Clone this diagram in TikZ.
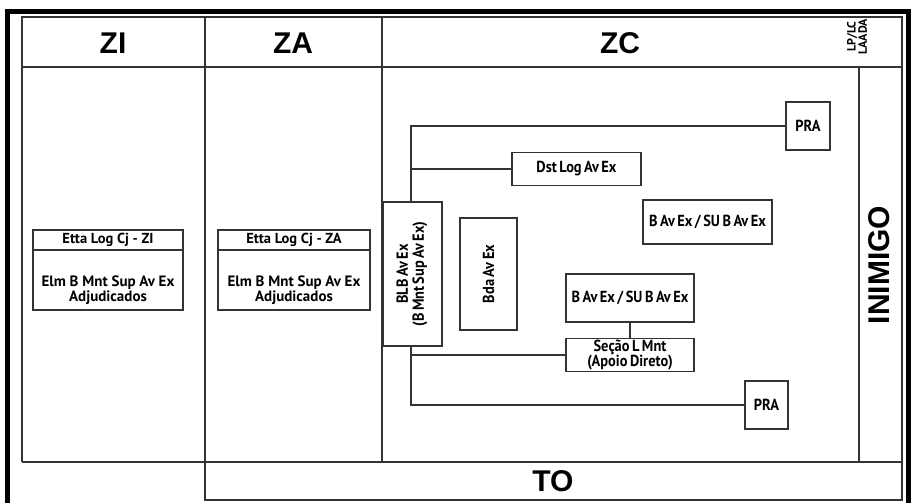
\documentclass[tikz,border=0pt]{standalone}
\usepackage{fontspec}
\setmainfont{Liberation Sans}
\newfontfamily\boxfontn{PT Sans}
\newfontfamily\boxfont[FakeStretch=0.9]{PT Sans}
\newcommand\zcfont{\boxfont\fontsize{16}{12.5}\selectfont\bfseries\setlength{\spaceskip}{2.5pt plus 1pt}}
\begin{document}
\begin{tikzpicture}[x=1pt,y=-1pt,
  frame/.style={draw=black!80, line width=1.4pt},
  hdr/.style={font=\fontsize{30}{31}\selectfont\bfseries, inner sep=0pt},
  bx/.style={draw=black!80, line width=1.4pt, inner sep=0pt, align=center, font=\zcfont},
  tbx/.style={bx, font=\boxfontn\fontsize{14.5}{16}\selectfont\bfseries},
  txt/.style={inner sep=0pt, align=center, font=\boxfontn\fontsize{15}{15}\selectfont\bfseries},
  conn/.style={draw=black!80, line width=1.4pt}]
\useasboundingbox (0,0) rectangle (911,503);
\fill[white] (0,0) rectangle (911,503);
% outer black frame
\draw[line width=5pt] (7,503) -- (7,11.5) -- (908,11.5) -- (908,503);
% table
\draw[frame] (22,462) -- (22,17) -- (902,17) -- (902,500) -- (205,500) -- (205,17);
\draw[frame] (22,67) -- (902,67);
\draw[frame] (22,462) -- (902,462);
\draw[frame] (382,17) -- (382,462);
\draw[frame] (859,67) -- (859,462);
% headers
\node[hdr] (zi) at (113,43) {ZI};
\node[hdr] (za) at (293,43) {ZA};
\node[hdr] (zc) at (620,43) {ZC};
\node[hdr] (to) at (553,481) {TO};
\node[hdr, rotate=90] (inimigo) at (879,265) {INIMIGO};
\node[rotate=90, align=center, inner sep=0pt, font=\boxfontn\fontsize{12}{9.5}\selectfont\bfseries] (lp) at (857,37) {LP/LC\\LAADA};
% ZI / ZA boxes
\node[tbx, minimum width=150, minimum height=20] (zit) at (108,240) {Etta Log Cj - ZI};
\node[draw=black!80, line width=1.4pt, minimum width=150, minimum height=60] (zib) at (108,280) {};
\node[txt] (zibt) at (108,290) {Elm B Mnt Sup Av Ex\\Adjudicados};
\node[tbx, minimum width=152, minimum height=20] (zat) at (294,240) {Etta Log Cj - ZA};
\node[draw=black!80, line width=1.4pt, minimum width=152, minimum height=60] (zab) at (294,280) {};
\node[txt] (zabt) at (294,290) {Elm B Mnt Sup Av Ex\\Adjudicados};
% ZC boxes
\node[bx, minimum width=59, minimum height=144] (blb) at (412.5,274)
  {\rotatebox{90}{\fontsize{16}{15}\selectfont\begin{tabular}{@{}c@{}}BLB Av Ex\\(B Mnt Sup Av Ex)\end{tabular}}};
\node[bx, minimum width=57, minimum height=112] (bda) at (488.5,274) {\rotatebox{90}{Bda Av Ex}};
\node[bx, minimum width=129, minimum height=33] (dst) at (576.5,169) {Dst Log Av Ex};
\node[bx, minimum width=44, minimum height=48] (pra1) at (808,126) {PRA};
\node[bx, minimum width=129, minimum height=44] (b1) at (707.5,222) {B Av Ex / SU B Av Ex};
\node[bx, minimum width=128, minimum height=48] (b2) at (630,298) {B Av Ex / SU B Av Ex};
\node[bx, minimum width=128, minimum height=33] (sec) at (630,355) {Seção L Mnt\\(Apoio Direto)};
\node[bx, minimum width=43, minimum height=48] (pra2) at (766.5,405) {PRA};
% connectors
\coordinate (tA) at (411,126);
\coordinate (tB) at (411,169);
\coordinate (tC) at (411,355);
\coordinate (tD) at (411,405);
\draw[conn] (blb.north -| tA) -- (tA) -- (pra1.west);
\draw[conn] (tB) -- (dst.west);
\draw[conn] (blb.south -| tD) -- (tD) -- (pra2.west);
\draw[conn] (tC) -- (sec.west);
\draw[conn] (b2.south) -- (sec.north);
\end{tikzpicture}
\end{document}
